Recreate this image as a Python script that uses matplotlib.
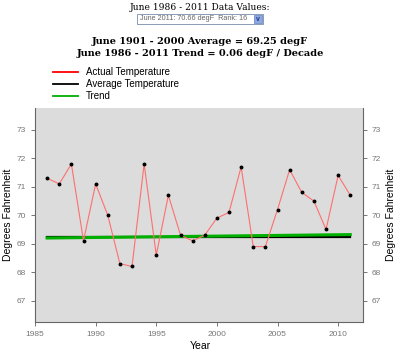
import matplotlib.pyplot as plt
from matplotlib.lines import Line2D
from matplotlib.patches import Rectangle

# June temperatures, 1986 - 2011 (degF)
years = list(range(1986, 2012))
temps = [71.3, 71.1, 71.8, 69.1, 71.1, 70.0, 68.3, 68.2, 71.8, 68.6,
         70.7, 69.3, 69.1, 69.3, 69.9, 70.1, 71.7, 68.9, 68.9, 70.2,
         71.6, 70.8, 70.5, 69.5, 71.4, 70.7]
avg_years = [1986, 2011]
avg_vals = [69.22, 69.22]
trend_years = [1986, 2011]
trend_vals = [69.2, 69.32]
yticks = [67, 68, 69, 70, 71, 72, 73]
xticks = [1985, 1990, 1995, 2000, 2005, 2010]

tick_col = '#777777'
sans = 'Liberation Sans'
serif = 'DejaVu Serif'

fig = plt.figure(figsize=(4.0, 3.55), dpi=100)
ax = fig.add_axes([0.0875, 0.093, 0.82, 0.603])
ax.set_facecolor('#dcdcdc')

ax.plot(years, temps, color='#ff6f6f', lw=0.8, zorder=3)
ax.plot(avg_years, avg_vals, color='black', lw=1.6, zorder=2)
ax.plot(trend_years, trend_vals, color='#00b000', lw=2.2, zorder=2.5)
ax.plot(years, temps, 'o', color='black', ms=1.8, zorder=4)

ax.set_xlim(1985, 2012.05)
ax.set_ylim(66.25, 73.77)
ax.set_xticks(xticks)
ax.set_yticks(yticks)
ax.tick_params(axis='both', colors=tick_col, labelsize=6, length=3, width=0.7)
ax.tick_params(axis='y', right=True, labelright=True)
for lab in ax.get_xticklabels() + ax.get_yticklabels():
    lab.set_family(sans)
for s in ['left', 'right', 'bottom']:
    ax.spines[s].set_color('#666666')
    ax.spines[s].set_linewidth(0.8)
ax.spines['top'].set_visible(False)

fig.text(200 / 400, 1 - 346 / 355, 'Year', ha='center', va='center',
         fontsize=7.5, family=sans)
fig.text(8 / 400, 1 - 215 / 355, 'Degrees Fahrenheit', ha='center', va='center',
         rotation=90, fontsize=7.5, family=sans)
fig.text(391 / 400, 1 - 215 / 355, 'Degrees Fahrenheit', ha='center', va='center',
         rotation=90, fontsize=7.5, family=sans)

# header
fig.text(0.5, 1 - 8 / 355, 'June 1986 - 2011 Data Values:', ha='center',
         va='center', fontsize=6.6, family=serif)
fig.patches.append(Rectangle((137 / 400, 1 - 24 / 355), 126 / 400, 10 / 355,
                             transform=fig.transFigure, facecolor='white',
                             edgecolor='#8a9bb8', lw=0.7))
fig.patches.append(Rectangle((254 / 400, 1 - 23 / 355), 8 / 400, 8 / 355,
                             transform=fig.transFigure, facecolor='#8fa8e0',
                             edgecolor='#6080c0', lw=0.5))
fig.text(194 / 400, 1 - 19 / 355, 'June 2011: 70.66 degF  Rank: 16', ha='center',
         va='center', fontsize=5.2, family=sans, color='#666666')
fig.text(258 / 400, 1 - 19.5 / 355, 'v', ha='center', va='center',
         fontsize=5, family=sans, color='#1a3a90', weight='bold')

fig.text(0.5, 1 - 42 / 355, 'June 1901 - 2000 Average = 69.25 degF', ha='center',
         va='center', fontsize=7, family=serif, weight='bold')
fig.text(0.5, 1 - 53.5 / 355, 'June 1986 - 2011 Trend = 0.06 degF / Decade',
         ha='center', va='center', fontsize=7, family=serif, weight='bold')

# legend
leg_items = [('Actual Temperature', 'red'), ('Average Temperature', 'black'),
             ('Trend', '#00b000')]
for i, (name, col) in enumerate(leg_items):
    y = 1 - (72 + 12 * i) / 355
    fig.lines.append(Line2D([53 / 400, 78 / 400], [y, y], color=col, lw=1.3,
                            transform=fig.transFigure))
    fig.text(86 / 400, y, name, ha='left', va='center', fontsize=7, family=sans)

fig.savefig('out.png', dpi=100)
